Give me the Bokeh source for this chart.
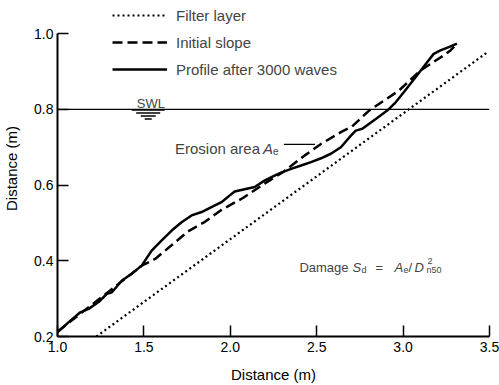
from bokeh.plotting import figure
from bokeh.models import Legend, LegendItem, Label, Range1d, PrintfTickFormatter
from bokeh.embed import file_html
from bokeh.resources import INLINE

# ---- data ----
filter_x = [1.225, 3.49]
filter_y = [0.200, 0.952]

initial_x = [1.00, 1.49, 1.565, 1.66, 1.756, 1.853, 1.95, 2.073, 2.198, 2.304, 2.429,
             2.525, 2.64, 2.705, 2.803, 2.976, 3.10, 3.235, 3.274, 3.312]
initial_y = [0.213, 0.388, 0.405, 0.441, 0.478, 0.503, 0.535, 0.566, 0.604, 0.634, 0.678,
             0.709, 0.740, 0.755, 0.797, 0.850, 0.903, 0.943, 0.956, 0.974]

profile_x = [1.00, 1.065, 1.132, 1.18, 1.238, 1.286, 1.315, 1.373, 1.43, 1.488, 1.545,
             1.603, 1.661, 1.718, 1.776, 1.834, 1.891, 1.949, 1.997, 2.025, 2.083, 2.141,
             2.198, 2.256, 2.294, 2.352, 2.41, 2.467, 2.525, 2.582, 2.64, 2.698, 2.726,
             2.764, 2.842, 2.908, 2.957, 3.005, 3.072, 3.139, 3.177, 3.216, 3.264, 3.312]
profile_y = [0.211, 0.238, 0.264, 0.273, 0.291, 0.313, 0.317, 0.348, 0.366, 0.388, 0.427,
             0.454, 0.480, 0.502, 0.520, 0.529, 0.542, 0.555, 0.573, 0.583, 0.589, 0.595,
             0.612, 0.625, 0.633, 0.643, 0.652, 0.661, 0.671, 0.683, 0.700, 0.731, 0.744,
             0.749, 0.775, 0.797, 0.819, 0.846, 0.885, 0.925, 0.947, 0.956, 0.965, 0.974]

swl_level = 0.8
swl_x = [1.0, 3.5]

x_ticks = [1.0, 1.5, 2.0, 2.5, 3.0, 3.5]
y_ticks = [0.2, 0.4, 0.6, 0.8, 1.0]

legend_labels = ["Filter layer", "Initial slope", "Profile after 3000 waves"]

FONT = "Liberation Sans"

p = figure(width=499, height=385, output_backend="svg", toolbar_location=None,
           x_range=Range1d(1.0, 3.5), y_range=Range1d(0.2, 1.088),
           min_border_left=57, min_border_right=10, min_border_top=0, min_border_bottom=49)
p.outline_line_color = None
p.xgrid.visible = False
p.ygrid.visible = False
p.background_fill_color = "white"

for ax in (p.xaxis, p.yaxis):
    ax.axis_line_width = 2
    ax.axis_line_color = "black"
    ax.major_tick_in = 11
    ax.major_tick_out = 0
    ax.major_tick_line_width = 1.5
    ax.minor_tick_line_color = None
    ax.major_label_text_font = FONT
    ax.major_label_text_font_size = "14px"
    ax.major_label_text_color = "black"
    ax.axis_label_text_font = FONT
    ax.axis_label_text_font_size = "15px"
    ax.axis_label_text_font_style = "normal"
    ax.axis_label_text_color = "black"
    ax.axis_label = "Distance (m)"
    ax.formatter = PrintfTickFormatter(format="%.1f")

p.xaxis.ticker = x_ticks
p.yaxis.ticker = y_ticks
p.yaxis.bounds = (0.2, 1.0)
p.xaxis.major_label_standoff = 5
p.yaxis.major_label_standoff = 4
p.xaxis.axis_label_standoff = 11
p.yaxis.axis_label_standoff = 11

# SWL line
p.line(swl_x, [swl_level, swl_level], line_color="black", line_width=1.3)

r_filter = p.line(filter_x, filter_y, line_color="black", line_width=2.2, line_dash="2 3")
r_init = p.line(initial_x, initial_y, line_color="black", line_width=2.5, line_dash="10 5")
r_prof = p.line(profile_x, profile_y, line_color="black", line_width=2.5)

# SWL symbol
p.scatter(x=[1.525] * 4, y=[0.7986, 0.7907, 0.7828, 0.7748], size=[33, 24, 15, 7],
          marker="dash", line_color="black", line_width=1.6)
p.add_layout(Label(x=1.54, y=0.815, text="SWL", text_font=FONT, text_font_size="13px",
                   text_align="center", text_baseline="alphabetic"))


def piece(x, y, text, dx, dy=0, size="15px", style="normal"):
    p.add_layout(Label(x=x, y=y, text=text, x_offset=dx, y_offset=dy, text_font=FONT,
                       text_font_size=size, text_font_style=style, text_baseline="alphabetic"))


# Erosion area annotation
piece(1.68, 0.697, "Erosion area", 0)
piece(1.68, 0.697, "A", 88, style="italic")
piece(1.68, 0.697, "e", 98, dy=-3, size="10px")
p.line([2.31, 2.49], [0.708, 0.708], line_color="black", line_width=1.2)

# Damage annotation
piece(2.40, 0.383, "Damage", 0, size="13px")
piece(2.40, 0.383, "S", 53, size="13px", style="italic")
piece(2.40, 0.383, "d", 62, dy=-3, size="9px")
piece(2.40, 0.383, "=", 76, size="13px")
piece(2.40, 0.383, "A", 95, size="13px", style="italic")
piece(2.40, 0.383, "e", 104, dy=-3, size="9px")
piece(2.40, 0.383, "/", 109, size="13px")
piece(2.40, 0.383, "D", 115, size="13px", style="italic")
piece(2.40, 0.383, "2", 128, dy=6, size="9px")
piece(2.40, 0.383, "n50", 127, dy=-3, size="9px")

legend = Legend(items=[LegendItem(label=legend_labels[0], renderers=[r_filter]),
                       LegendItem(label=legend_labels[1], renderers=[r_init]),
                       LegendItem(label=legend_labels[2], renderers=[r_prof])],
                location=(55, 257), glyph_width=55, glyph_height=20, label_height=20,
                spacing=7, padding=0, margin=0, label_standoff=9,
                label_text_font=FONT, label_text_font_size="15px",
                background_fill_alpha=0, border_line_alpha=0)
p.add_layout(legend, "center")

open("out.html", "w").write(file_html(p, INLINE))
